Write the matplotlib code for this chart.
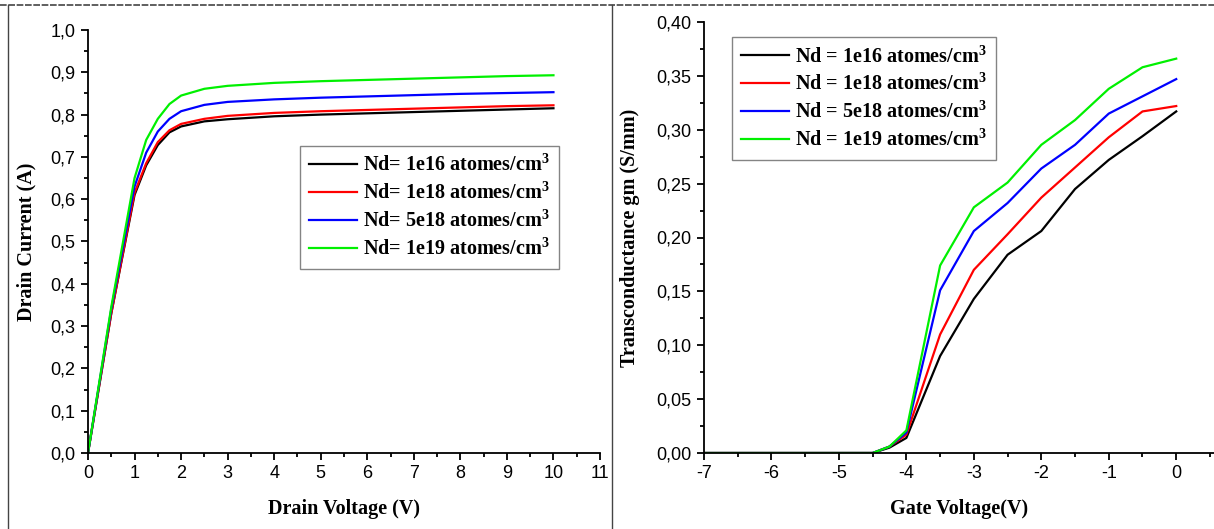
import numpy as np
import matplotlib
matplotlib.use("Agg")
import matplotlib.pyplot as plt
from matplotlib.ticker import MultipleLocator, FuncFormatter
from matplotlib.lines import Line2D

plt.rcParams['font.family'] = 'Liberation Sans'
plt.rcParams['mathtext.fontset'] = 'custom'
plt.rcParams['mathtext.rm'] = 'Liberation Serif:bold'
plt.rcParams['mathtext.it'] = 'Liberation Serif:bold'
plt.rcParams['mathtext.bf'] = 'Liberation Serif:bold'

# Id-Vd data
vd = [0, 0.5, 1, 1.25, 1.5, 1.75, 2, 2.5, 3, 4, 5, 6, 7, 8, 9, 10]
id_1e16 = [0, 0.33, 0.61, 0.68, 0.728, 0.758, 0.772, 0.784, 0.789, 0.796, 0.800, 0.803, 0.806, 0.809, 0.812, 0.815]
id_1e18 = [0, 0.33, 0.615, 0.685, 0.735, 0.763, 0.778, 0.79, 0.797, 0.804, 0.808, 0.811, 0.814, 0.817, 0.820, 0.822]
id_5e18 = [0, 0.34, 0.63, 0.71, 0.76, 0.79, 0.808, 0.823, 0.83, 0.836, 0.840, 0.843, 0.846, 0.849, 0.851, 0.853]
id_1e19 = [0, 0.345, 0.65, 0.74, 0.79, 0.825, 0.845, 0.861, 0.868, 0.875, 0.879, 0.882, 0.885, 0.888, 0.891, 0.893]

# gm-Vg data
vg = [-7, -6.5, -6, -5.5, -5, -4.5, -4.25, -4, -3.5, -3, -2.5, -2, -1.5, -1, -0.5, 0]
gm_1e16 = [0, 0, 0, 0, 0, 0, 0.005, 0.014, 0.090, 0.143, 0.184, 0.206, 0.245, 0.272, 0.294, 0.317]
gm_1e18 = [0, 0, 0, 0, 0, 0, 0.006, 0.017, 0.110, 0.170, 0.203, 0.237, 0.265, 0.293, 0.317, 0.322]
gm_5e18 = [0, 0, 0, 0, 0, 0, 0.006, 0.019, 0.151, 0.206, 0.232, 0.264, 0.286, 0.315, 0.331, 0.347]
gm_1e19 = [0, 0, 0, 0, 0, 0, 0.006, 0.021, 0.174, 0.228, 0.251, 0.286, 0.309, 0.338, 0.358, 0.366]

colors = ['black', '#ff0000', '#0000ff', '#00f000']
labels_left = ['Nd= 1e16 atomes/cm$^3$', 'Nd= 1e18 atomes/cm$^3$',
               'Nd= 5e18 atomes/cm$^3$', 'Nd= 1e19 atomes/cm$^3$']
labels_right = ['Nd = 1e16 atomes/cm$^3$', 'Nd = 1e18 atomes/cm$^3$',
                'Nd = 5e18 atomes/cm$^3$', 'Nd = 1e19 atomes/cm$^3$']

fig = plt.figure(figsize=(12.14, 5.29), dpi=100)
ax1 = fig.add_axes([88/1214, 1-453/529, 512/1214, 423/529])
ax2 = fig.add_axes([704/1214, 1-453/529, 510/1214, 431/529])

label_font = dict(family='Liberation Serif', weight='bold', size=14.5)
leg_font = dict(family='Liberation Serif', weight='bold', size=14.5)


def style(ax):
    for s in ['top', 'right']:
        ax.spines[s].set_visible(False)
    for s in ['left', 'bottom']:
        ax.spines[s].set_linewidth(1.3)
    ax.tick_params(which='major', direction='out', length=5, width=1.3, labelsize=13, pad=4)
    ax.tick_params(which='minor', direction='out', length=3, width=1.3)


def legend(ax, anchor):
    leg = ax.legend(loc='upper left', bbox_to_anchor=anchor, borderaxespad=0,
                    prop=leg_font, fancybox=False, edgecolor='#666666', handlelength=2.4,
                    labelspacing=0.33, borderpad=0.45, handletextpad=0.3)
    leg.get_frame().set_linewidth(1.0)
    return leg


for y, c, l in zip([id_1e16, id_1e18, id_5e18, id_1e19], colors, labels_left):
    ax1.plot(vd, y, color=c, lw=1.6, label=l)
ax1.set_xlim(0, 11)
ax1.set_ylim(0, 1.0)
ax1.xaxis.set_major_locator(MultipleLocator(1))
ax1.xaxis.set_minor_locator(MultipleLocator(0.5))
ax1.yaxis.set_major_locator(MultipleLocator(0.1))
ax1.yaxis.set_minor_locator(MultipleLocator(0.05))
ax1.yaxis.set_major_formatter(FuncFormatter(lambda v, p: f"{v:.1f}".replace('.', ',')))
style(ax1)
ax1.set_xlabel('Drain Voltage (V)', fontdict=label_font, labelpad=12)
ax1.set_ylabel('Drain Current (A)', fontdict=label_font, labelpad=10)
legend(ax1, (0.414, 0.726))

for y, c, l in zip([gm_1e16, gm_1e18, gm_5e18, gm_1e19], colors, labels_right):
    ax2.plot(vg, y, color=c, lw=1.6, label=l)
ax2.set_xlim(-7, 0.56)
ax2.set_ylim(0, 0.40)
ax2.xaxis.set_major_locator(MultipleLocator(1))
ax2.xaxis.set_minor_locator(MultipleLocator(0.5))
ax2.yaxis.set_major_locator(MultipleLocator(0.05))
ax2.yaxis.set_minor_locator(MultipleLocator(0.025))
ax2.xaxis.set_major_formatter(FuncFormatter(lambda v, p: f"{v:.0f}"))
ax2.yaxis.set_major_formatter(FuncFormatter(lambda v, p: f"{v:.2f}".replace('.', ',')))
style(ax2)
ax2.set_xlabel('Gate Voltage(V)', fontdict=label_font, labelpad=12)
ax2.set_ylabel('Transconductance gm (S/mm)', fontdict=label_font, labelpad=12)
legend(ax2, (0.055, 0.965))

# page frame lines
fig.add_artist(Line2D([0, 1], [1-5/529, 1-5/529], color='#444444', lw=1.2, ls=(0, (4, 1))))
fig.add_artist(Line2D([8/1214, 8/1214], [0, 1-5/529], color='#444444', lw=1.0))
fig.add_artist(Line2D([612/1214, 612/1214], [0, 1-5/529], color='#444444', lw=1.0))

fig.savefig('out.png', dpi=100)
